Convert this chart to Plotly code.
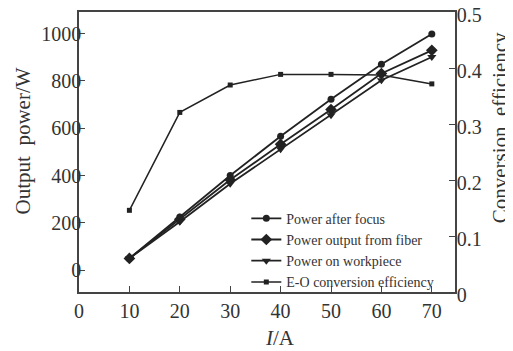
import plotly.graph_objects as go

current = [10, 20, 30, 40, 50, 60, 70]
power_after_focus = [50, 225, 400, 566, 722, 870, 998]
power_from_fiber = [50, 215, 382, 532, 679, 831, 929]
power_on_workpiece = [50, 205, 365, 511, 655, 803, 901]
eo_efficiency = [0.146, 0.321, 0.370, 0.389, 0.389, 0.388, 0.372]

x_ticks = [0, 10, 20, 30, 40, 50, 60, 70]
y_ticks = [0, 200, 400, 600, 800, 1000]
y2_ticks = [0, 0.1, 0.2, 0.3, 0.4, 0.5]
y2_ticklabels = ["0", "0.1", "0.2", "0.3", "0.4", "0.5"]

FONT = "Liberation Serif, Times New Roman, serif"
INK = "#222222"
AX = "#444444"
TXT = "#333333"

fig = go.Figure()
fig.add_trace(go.Scatter(x=current, y=power_after_focus, name="Power after focus",
                         mode="lines+markers", line=dict(color=INK, width=1.8),
                         marker=dict(symbol="circle", size=7, color=INK)))
fig.add_trace(go.Scatter(x=current, y=power_from_fiber, name="Power output from fiber",
                         mode="lines+markers", line=dict(color=INK, width=1.8),
                         marker=dict(symbol="diamond", size=9, color=INK)))
fig.add_trace(go.Scatter(x=current, y=power_on_workpiece, name="Power on workpiece",
                         mode="lines+markers", line=dict(color=INK, width=1.8),
                         marker=dict(symbol="triangle-down", size=8, color=INK)))
fig.add_trace(go.Scatter(x=current, y=eo_efficiency, name="E-O conversion efficiency",
                         mode="lines+markers", line=dict(color=INK, width=1.5),
                         marker=dict(symbol="square", size=5, color=INK), yaxis="y2"))

tick_font = dict(size=20, family=FONT, color=TXT)
title_font = dict(size=21, family=FONT, color=TXT)

# page body has an 8px margin, so the figure is sized to fit the 513x351 window
fig.update_layout(
    width=505, height=343,
    margin=dict(l=71, r=58, t=4, b=59),
    paper_bgcolor="white", plot_bgcolor="white",
    font=dict(family=FONT, color=TXT),
    showlegend=True,
    legend=dict(x=0.445, y=0.319, xanchor="left", yanchor="top",
                bgcolor="rgba(0,0,0,0)", font=dict(size=14, family=FONT, color=TXT),
                itemwidth=30, tracegroupgap=0, traceorder="normal"),
    xaxis=dict(range=[0, 74.6], tickvals=x_ticks, ticks="inside", ticklen=6,
               tickcolor=AX, showline=True, linecolor=AX, linewidth=1.5, mirror=True,
               showgrid=False, zeroline=False, tickfont=tick_font, automargin=False),
    yaxis=dict(range=[-92, 1091], tickvals=y_ticks, ticks="inside", ticklen=6,
               tickcolor=AX, showline=True, linecolor=AX, linewidth=1.5,
               showgrid=False, zeroline=False, tickfont=tick_font, automargin=False,
               ticklabelstandoff=-8, ticklabeloverflow="allow"),
    yaxis2=dict(range=[0, 0.5005], tickvals=y2_ticks, ticktext=y2_ticklabels, overlaying="y",
                side="right", ticks="inside", ticklen=6, tickcolor=AX, showline=True,
                linecolor=AX, linewidth=1.5, showgrid=False, zeroline=False,
                tickfont=tick_font, automargin=False, ticklabelstandoff=-4,
                ticklabelshift=3, ticklabeloverflow="allow"),
    annotations=[
        dict(text="<i>I</i>/A", xref="paper", yref="paper", x=0.535, y=-0.164,
             xanchor="center", yanchor="middle", showarrow=False, font=title_font),
        dict(text="Output\u00a0\u00a0power/W", xref="paper", x=-0.15, yref="paper", y=0.54,
             xanchor="center", yanchor="middle", showarrow=False, textangle=-90, font=title_font),
        dict(text="Conversion\u00a0\u00a0efficiency", xref="paper", x=1.12, yref="paper", y=0.585,
             xanchor="center", yanchor="middle", showarrow=False, textangle=-90, font=title_font),
    ],
)

fig.write_html("out.html")
